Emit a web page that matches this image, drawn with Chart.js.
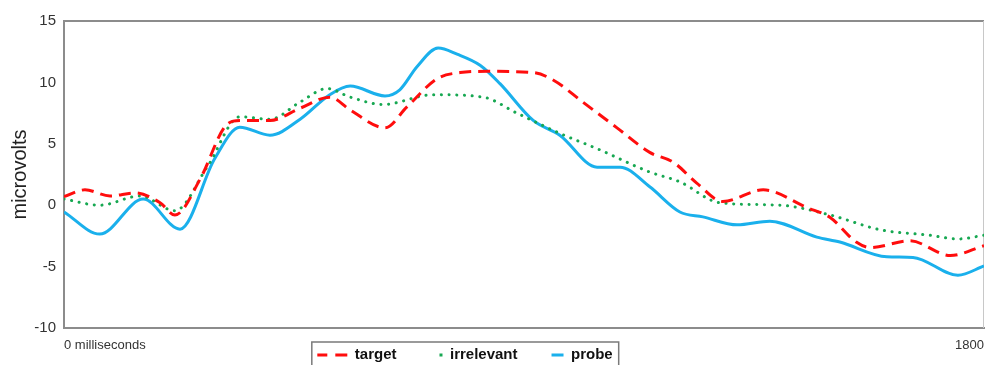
<!DOCTYPE html>
<html>
<head>
<meta charset="utf-8">
<script src="https://cdn.jsdelivr.net/npm/chart.js@4"></script>
<style>
html,body{margin:0;padding:0;background:#fff;}
#wrap{width:985px;height:365px;}
</style>
</head>
<body>
<div id="wrap"><canvas id="c" width="985" height="365"></canvas></div>
<script>
const seriesNames = ['target', 'irrelevant', 'probe'];

const targetTimes  = [0, 41, 90, 139, 188, 217, 266, 315, 344, 403, 462, 520, 560, 628, 671, 730, 775, 828, 918, 957, 1015, 1082, 1146, 1192, 1238, 1289, 1368, 1454, 1499, 1550, 1577, 1655, 1734, 1800];
const targetValues = [0.7, 1.25, 0.75, 1.0, 0.2, -0.8, 2.1, 6.4, 6.9, 6.9, 7.9, 8.8, 7.75, 6.3, 8.0, 10.3, 10.8, 10.9, 10.8, 10.2, 8.4, 6.3, 4.3, 3.5, 1.8, 0.3, 1.25, -0.2, -1.0, -3.0, -3.45, -2.9, -4.1, -3.3];

const irrelevantTimes  = [0, 70, 149, 217, 280, 344, 403, 462, 515, 560, 624, 722, 820, 886, 970, 1049, 1146, 1205, 1283, 1401, 1499, 1597, 1694, 1749, 1800];
const irrelevantValues = [0.5, 0.0, 0.75, -0.45, 3.1, 7.2, 7.0, 8.4, 9.5, 8.8, 8.2, 9.0, 8.8, 7.5, 5.85, 4.5, 2.7, 1.9, 0.2, 0.0, -0.8, -2.0, -2.45, -2.75, -2.45];

const probeTimes  = [0, 70, 155, 227, 295, 344, 403, 462, 520, 560, 628, 657, 691, 732, 769, 814, 853, 918, 970, 1043, 1088, 1146, 1205, 1250, 1317, 1381, 1473, 1518, 1610, 1661, 1749, 1800];
const probeValues = [-0.55, -2.35, 0.5, -1.95, 3.8, 6.35, 5.7, 7.0, 9.0, 9.7, 8.9, 9.4, 11.3, 12.8, 12.3, 11.4, 9.9, 6.9, 5.7, 3.1, 3.1, 1.5, -0.55, -0.95, -1.6, -1.3, -2.6, -3.0, -4.2, -4.25, -5.7, -4.95];

const xTickValues = [0, 1800];
const xTickLabels = ['0 milliseconds', '1800'];
const yTickStep = 5;

const colors = { target: '#ff0d0d', irrelevant: '#17a852', probe: '#1ab0ec' };
const lineDashes = { target: [12, 7], irrelevant: [0.1, 7.6], probe: [] };
const legendDashes = { target: [0, 14, 10, 8, 12, 0], irrelevant: [0, 41, 3, 0], probe: [0, 32, 12, 0] };

function pts(times, values) { return times.map((t, i) => ({ x: t, y: values[i] })); }

const seriesData = {
  target: pts(targetTimes, targetValues),
  irrelevant: pts(irrelevantTimes, irrelevantValues),
  probe: pts(probeTimes, probeValues)
};

const frame = {
  id: 'frame',
  afterLayout(chart) {
    const lg = chart.legend;
    if (lg) { lg.left -= 34; lg.right -= 34; lg.top -= 6.5; lg.bottom -= 6.5; }
  },
  beforeDatasetsDraw(chart) {
    const { ctx, chartArea: a } = chart;
    ctx.save();
    ctx.strokeStyle = '#8c8c8c';
    ctx.lineWidth = 2;
    ctx.beginPath(); ctx.moveTo(a.left, a.top); ctx.lineTo(a.right, a.top); ctx.stroke();
    ctx.strokeStyle = '#c8c8c8';
    ctx.lineWidth = 1;
    ctx.beginPath(); ctx.moveTo(a.right - 0.5, a.top); ctx.lineTo(a.right - 0.5, a.bottom); ctx.stroke();
    ctx.restore();
  },
  afterDraw(chart) {
    const hb = chart.legend && chart.legend.legendHitBoxes;
    if (!hb || !hb.length) return;
    const first = hb[0], last = hb[hb.length - 1];
    const ctx = chart.ctx;
    ctx.save();
    ctx.strokeStyle = '#7a7a7a';
    ctx.lineWidth = 1.5;
    const l = first.left + 8.5, r = last.left + last.width + 6, t = first.top - 5.5;
    ctx.strokeRect(l, t, r - l, 40);
    ctx.restore();
  }
};

new Chart(document.getElementById('c'), {
  type: 'line',
  data: {
    datasets: seriesNames.map(n => ({
      label: n,
      data: seriesData[n],
      borderColor: colors[n],
      backgroundColor: colors[n],
      borderWidth: 3,
      borderDash: lineDashes[n],
      borderCapStyle: n === 'irrelevant' ? 'round' : 'butt',
      pointRadius: 0,
      cubicInterpolationMode: 'monotone',
      fill: false
    }))
  },
  options: {
    responsive: false,
    animation: false,
    events: [],
    layout: { padding: { top: 21, right: 1, bottom: -14, left: 0 } },
    scales: {
      x: {
        type: 'linear',
        min: 0,
        max: 1800,
        grid: { display: false, drawTicks: true, tickLength: 10 },
        border: { display: true, color: '#8c8c8c', width: 2 },
        afterBuildTicks(scale) { scale.ticks = xTickValues.map(v => ({ value: v })); },
        afterFit(scale) { scale.height = 24; },
        ticks: {
          align: 'inner',
          autoSkip: false,
          maxRotation: 0,
          padding: 0,
          color: '#333',
          font: { family: '"Liberation Sans", Arial, sans-serif', size: 13 },
          callback(v) { const i = xTickValues.indexOf(v); return i >= 0 ? xTickLabels[i] : ''; }
        }
      },
      y: {
        min: -10,
        max: 15,
        grid: { display: false, drawTicks: false },
        border: { display: true, color: '#8c8c8c', width: 2 },
        afterFit(scale) { scale.width = 64; },
        ticks: {
          stepSize: yTickStep,
          padding: 8,
          color: '#333',
          font: { family: '"Liberation Sans", Arial, sans-serif', size: 15 }
        },
        title: {
          display: true,
          text: 'microvolts',
          color: '#222',
          padding: { top: 8, bottom: 0 },
          font: { family: '"Liberation Sans", Arial, sans-serif', size: 20 }
        }
      }
    },
    plugins: {
      tooltip: { enabled: false },
      legend: {
        position: 'bottom',
        labels: {
          usePointStyle: true,
          pointStyleWidth: 44,
          boxHeight: 15,
          padding: 2,
          color: '#111',
          font: { family: '"Liberation Sans", Arial, sans-serif', size: 15, weight: 'bold' },
          generateLabels(chart) {
            return chart.data.datasets.map((ds, i) => ({
              text: ds.label,
              fillStyle: ds.borderColor,
              strokeStyle: ds.borderColor,
              lineWidth: 3,
              lineDash: legendDashes[ds.label],
              lineCap: 'butt',
              pointStyle: 'line',
              hidden: false,
              datasetIndex: i,
              fontColor: '#111'
            }));
          }
        }
      }
    }
  },
  plugins: [frame]
});
</script>
</body>
</html>
